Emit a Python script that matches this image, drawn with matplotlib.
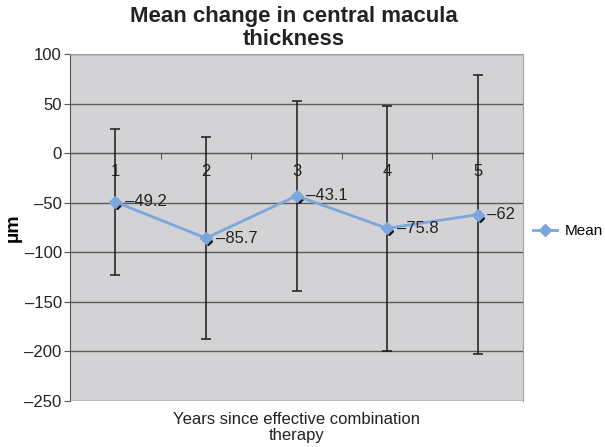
import matplotlib.pyplot as plt
import matplotlib.transforms as mtransforms
from matplotlib.ticker import MultipleLocator, FixedLocator

plt.rcParams['font.family'] = ['Liberation Sans', 'DejaVu Sans']

years = [1, 2, 3, 4, 5]
year_labels = ["1", "2", "3", "4", "5"]
mean_change = [-49.2, -85.7, -43.1, -75.8, -62]
sd = [73.5, 102, 96, 123.5, 141]
value_labels = ["\u201349.2", "\u201385.7", "\u201343.1", "\u201375.8", "\u201362"]

fig = plt.figure(figsize=(6.05, 4.47), dpi=100)
ax = fig.add_axes([0.1157, 0.1029, 0.7488, 0.7763])
ax.set_facecolor('#d3d3d5')

ax.set_xlim(0.5, 5.5)
ax.set_ylim(-250, 100)
ax.yaxis.set_major_locator(MultipleLocator(50))
ax.grid(axis='y', color='#5a5a5a', linewidth=1)
ax.set_axisbelow(True)

# error bars (black, with caps) and the small black marker slightly offset
ax.errorbar(years, mean_change, yerr=sd, fmt='none', ecolor='#1a1a1a',
            elinewidth=1.1, capsize=3.5, capthick=1.1, zorder=3)
shift = mtransforms.ScaledTranslation(2 / 100, -3 / 100, fig.dpi_scale_trans)
ax.plot(years, mean_change, linestyle='none', marker='D', markersize=4,
        color='#111111', transform=ax.transData + shift, zorder=4)

ax.plot(years, mean_change, color='#7ba7dc', linewidth=2, marker='D',
        markersize=6, markeredgecolor='#7ba7dc', label='Mean', zorder=5)

for x, y, t in zip(years, mean_change, value_labels):
    ax.annotate(t, (x, y), xytext=(7, 0), textcoords='offset points',
                va='center', ha='left', fontsize=12, color='#222222', zorder=6)

# category axis sits on y = 0
ax.spines['bottom'].set_position(('data', 0))
ax.spines['bottom'].set_color('#555555')
ax.spines['left'].set_color('#555555')
ax.spines['top'].set_color('#a0a0a0')
ax.spines['right'].set_color('#a0a0a0')
ax.xaxis.set_major_locator(FixedLocator([1.5, 2.5, 3.5, 4.5]))
ax.xaxis.set_minor_locator(FixedLocator(years))
ax.set_xticklabels([])
ax.set_xticklabels(year_labels, minor=True)
ax.tick_params(axis='x', which='major', direction='out', length=4,
               color='#555555')
ax.tick_params(axis='x', which='minor', length=0, pad=8, labelsize=12,
               labelcolor='#222222')
ax.tick_params(axis='y', direction='out', length=4, color='#555555',
               labelsize=12, labelcolor='#222222', pad=2)

ax.set_yticks([100, 50, 0, -50, -100, -150, -200, -250])
ax.set_yticklabels(["100", "50", "0", "\u201350", "\u2013100", "\u2013150",
                    "\u2013200", "\u2013250"])

ax.set_ylabel('µm', fontsize=14, fontweight='bold', labelpad=2)
fig.text(0.49, 0.043, 'Years since effective combination\ntherapy',
         ha='center', va='center', fontsize=12, color='#222222',
         linespacing=1.12)
fig.text(0.485, 0.937, 'Mean change in central macula\nthickness', ha='center',
         va='center', fontsize=16, fontweight='bold', color='#222222',
         linespacing=1.15)

ax.legend(loc='center left', bbox_to_anchor=(1.022, 0.49), frameon=False,
          fontsize=11, handlelength=1.6, handletextpad=0.45,
          borderaxespad=0, borderpad=0)

fig.savefig('out.png', dpi=100)
